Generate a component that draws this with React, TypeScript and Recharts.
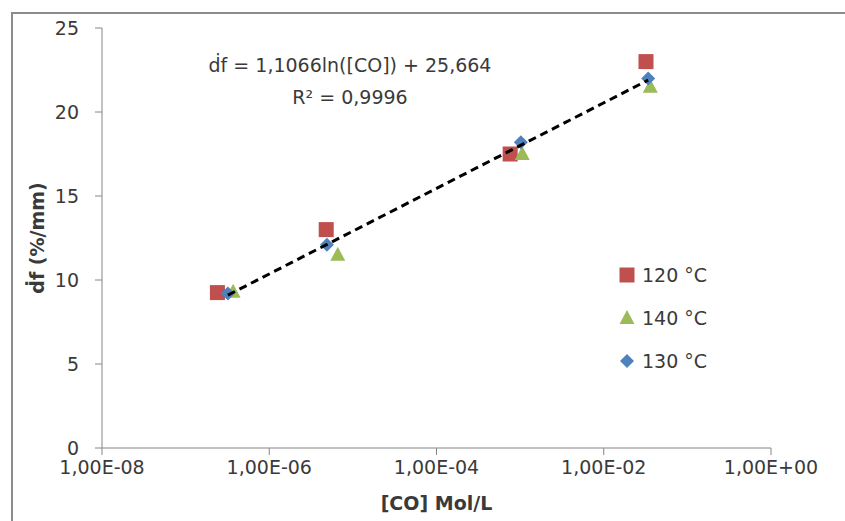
import React from "react";
import { ScatterChart, Scatter, XAxis, YAxis, Label } from "recharts";

// [CO] in mol/L vs df (%/mm)
const s120 = [
  { x: 2.4e-7, y: 9.25 },
  { x: 4.8e-6, y: 13.0 },
  { x: 7.6e-4, y: 17.5 },
  { x: 3.2e-2, y: 23.0 },
];
const s140 = [
  { x: 3.7e-7, y: 9.3 },
  { x: 6.6e-6, y: 11.5 },
  { x: 1.06e-3, y: 17.5 },
  { x: 3.6e-2, y: 21.5 },
];
const s130 = [
  { x: 3.2e-7, y: 9.2 },
  { x: 4.9e-6, y: 12.1 },
  { x: 1.02e-3, y: 18.2 },
  { x: 3.4e-2, y: 22.0 },
];
// end points of the log trendline drawn in the picture
const trend = [
  { x: 3.2e-7, y: 9.1 },
  { x: 3.4e-2, y: 21.9 },
];
const xTicks = [1e-8, 1e-6, 1e-4, 1e-2, 1];
const yTicks = [0, 5, 10, 15, 20, 25];

const FONT = "DejaVu Sans";
const FS = 19;
const TXT = "#3a3a3a";
const AXIS = "#868686";
const RED = "#C0504D";
const GREEN = "#9BBB59";
const BLUE = "#4F81BD";

const fmtExp = (v: number) => {
  const e = Math.round(Math.log10(v));
  const sign = e < 0 ? "-" : "+";
  return `1,00E${sign}${String(Math.abs(e)).padStart(2, "0")}`;
};

const Square = ({ cx, cy, fill }: any) => (
  <rect x={cx - 7.5} y={cy - 7.5} width={15} height={15} fill={fill} />
);
const Triangle = ({ cx, cy, fill }: any) => (
  <polygon points={`${cx},${cy - 8} ${cx + 7.5},${cy + 6} ${cx - 7.5},${cy + 6}`} fill={fill} />
);
const Diamond = ({ cx, cy, fill }: any) => (
  <polygon points={`${cx},${cy - 7} ${cx + 7},${cy} ${cx},${cy + 7} ${cx - 7},${cy}`} fill={fill} />
);

const legendItems = [
  { name: "120 °C", color: RED, Icon: Square },
  { name: "140 °C", color: GREEN, Icon: Triangle },
  { name: "130 °C", color: BLUE, Icon: Diamond },
];

function LegendBox() {
  return (
    <div
      style={{ position: "absolute", left: 618, top: 253, fontFamily: FONT, fontSize: FS, color: TXT }}
    >
      {legendItems.map(({ name, color, Icon }) => (
        <div key={name} style={{ display: "flex", alignItems: "center", height: 43 }}>
          <svg width={18} height={18} style={{ marginRight: 6 }}>
            <Icon cx={9} cy={9} fill={color} />
          </svg>
          <span>{name}</span>
        </div>
      ))}
    </div>
  );
}

export default function App() {
  return (
    <div style={{ position: "absolute", left: 0, top: 0, width: 845, height: 521, background: "#fff" }}>
      <div
        style={{
          position: "absolute",
          left: 11,
          top: 12,
          width: 845,
          height: 521,
          borderTop: "2px solid #8c8c8c",
          borderLeft: "2px solid #8c8c8c",
        }}
      />
      <ScatterChart width={845} height={521} margin={{ top: 28, right: 74, bottom: 0, left: 0 }}>
        <XAxis
          dataKey="x"
          type="number"
          scale="log"
          domain={[1e-8, 1]}
          ticks={xTicks}
          allowDataOverflow
          tickFormatter={fmtExp}
          height={73}
          stroke={AXIS}
          tickSize={7}
          tickMargin={6}
          tick={{ fontSize: FS, fill: TXT, fontFamily: FONT }}
        >
          <Label
            value="[CO] Mol/L"
            position="insideBottom"
            offset={11}
            style={{ fontSize: FS, fontWeight: "bold", fill: TXT, fontFamily: FONT }}
          />
        </XAxis>
        <YAxis
          dataKey="y"
          type="number"
          domain={[0, 25]}
          ticks={yTicks}
          width={102}
          stroke={AXIS}
          tickSize={7}
          tickMargin={16}
          tick={{ fontSize: FS, fill: TXT, fontFamily: FONT }}
        >
          <Label
            content={({ viewBox }: any) => (
              <text
                transform={`translate(${viewBox.x + 37},${viewBox.y + viewBox.height / 2}) rotate(-90)`}
                textAnchor="middle"
                dominantBaseline="central"
                style={{ fontSize: FS, fontWeight: "bold", fill: TXT, fontFamily: FONT }}
              >
                ḋf (%/mm)
              </text>
            )}
          />
        </YAxis>
        <Scatter name="120 °C" data={s120} fill={RED} shape={Square} isAnimationActive={false} />
        <Scatter name="140 °C" data={s140} fill={GREEN} shape={Triangle} isAnimationActive={false} />
        <Scatter name="130 °C" data={s130} fill={BLUE} shape={Diamond} isAnimationActive={false} />
        <Scatter
          name="trend"
          data={trend}
          fill="#000"
          legendType="none"
          shape={() => <g />}
          line={{ stroke: "#000", strokeWidth: 3, strokeDasharray: "8 5" }}
          isAnimationActive={false}
        />
      </ScatterChart>
      <LegendBox />
      <div
        style={{
          position: "absolute",
          left: 150,
          top: 49,
          width: 400,
          textAlign: "center",
          fontFamily: FONT,
          fontSize: FS,
          lineHeight: "32px",
          color: TXT,
        }}
      >
        <div>ḋf = 1,1066ln([CO]) + 25,664</div>
        <div>R² = 0,9996</div>
      </div>
    </div>
  );
}
